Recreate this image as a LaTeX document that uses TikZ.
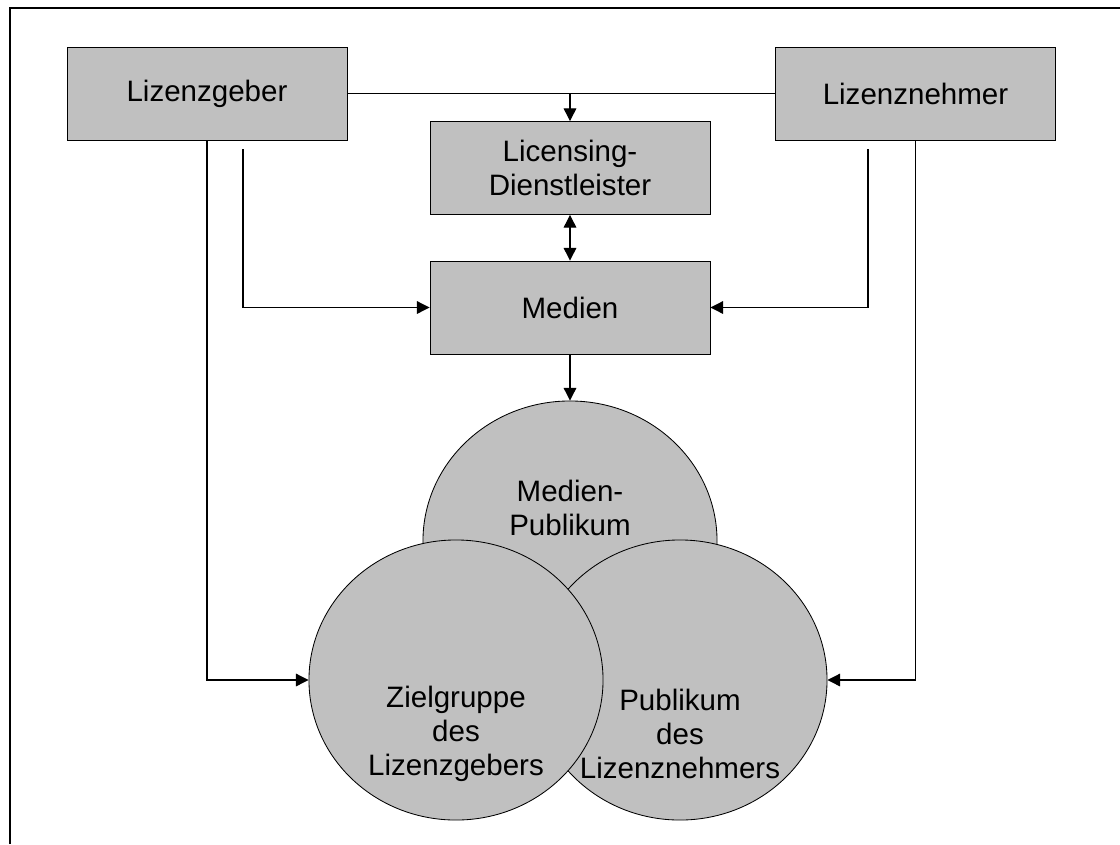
\documentclass[tikz,border=0pt]{standalone}
\usepackage{fontspec}
\setmainfont{Liberation Sans}
\usepackage{xcolor}
\usepackage{tikz}
\usetikzlibrary{shapes.geometric, arrows.meta, positioning}

\definecolor{boxgray}{HTML}{C0C0C0}

\begin{document}
\begin{tikzpicture}[x=0.025cm, y=-0.025cm,
        every node/.style={font=\fontsize{21}{24}\selectfont},
        box/.style={draw, fill=boxgray, line width=0.6pt, minimum width=7cm, minimum height=2.325cm, align=center, inner sep=0pt},
        audience/.style={ellipse, draw, fill=boxgray, line width=0.6pt, minimum width=7.35cm, minimum height=7cm, inner sep=0pt},
        settext/.style={align=center, inner sep=0pt},
        link/.style={line width=0.8pt, -{Triangle[length=9pt, width=9pt]}},
        dlink/.style={line width=0.8pt, {Triangle[length=9pt, width=9pt]}-{Triangle[length=9pt, width=9pt]}}]

        \useasboundingbox (0,0) rectangle (1120,844);
        \draw[line width=1pt] (10,844) -- (10,8) -- (1120,8);

        \node[box] (geber) at (207,93.5) {Lizenzgeber};
        \node[box] (nehmer) at (915.5,93.5) {Lizenznehmer};
        \node[box] (lic) at (570,168) {Licensing-\\Dienstleister};
        \node[box] (medien) at (570,307.5) {Medien};

        \node[audience] (pubM) at (570,541) {};
        \node[audience] (pubN) at (680,680) {};
        \node[audience] (zielG) at (456,680) {};

        \node[settext] (tM) at ([yshift=0.82cm]pubM.center) {Medien-\\Publikum};
        \node[settext] (tG) at ([yshift=-1.35cm]zielG.center) {Zielgruppe\\des\\Lizenzgebers};
        \node[settext] (tN) at ([yshift=-1.35cm]pubN.center) {Publikum\\des\\Lizenznehmers};

        \coordinate (g2) at (243,149);
        \coordinate (n2) at (868,149);

        \draw[line width=0.8pt] (geber.east) -- (nehmer.west);
        \draw[link] (geber.east -| lic.north) -- (lic.north);
        \draw[dlink] (lic.south) -- (medien.north);
        \draw[link] (medien.south) -- (pubM.north);
        \draw[link] (g2) |- (medien.west);
        \draw[link] (n2) |- (medien.east);
        \draw[link] (geber.south) |- (zielG.west);
        \draw[link] (nehmer.south) |- (pubN.east);
\end{tikzpicture}
\end{document}
